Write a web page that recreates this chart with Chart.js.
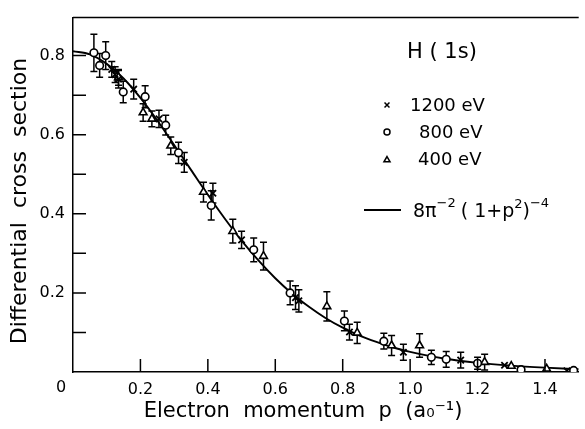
<!DOCTYPE html>
<html><head><meta charset="utf-8">
<script src="https://cdn.jsdelivr.net/npm/chart.js@4.4.1/dist/chart.umd.min.js"></script>
<style>html,body{margin:0;padding:0;background:#fff;}</style>
</head><body>
<canvas id="c" width="585" height="429"></canvas>
<script>
// Theory curve 8π⁻²(1+p²)⁻⁴
const curveP = [0,0.05,0.1,0.15,0.2,0.25,0.3,0.35,0.4,0.45,0.5,0.55,0.6,0.65,0.7,0.75,0.8,0.85,0.9,0.95,1.0,1.1,1.2,1.3,1.4,1.5];
const curveV = [0.811,0.803,0.779,0.742,0.693,0.636,0.574,0.511,0.448,0.388,0.332,0.282,0.237,0.198,0.165,0.136,0.112,0.092,0.076,0.062,0.051,0.034,0.023,0.016,0.011,0.007];

// 1200 eV (crosses)
const p1200 = [0.115,0.125,0.135,0.18,0.255,0.33,0.415,0.50,0.66,0.67,0.82,0.98,1.15,1.28,1.465];
const v1200 = [0.765,0.752,0.740,0.715,0.640,0.530,0.452,0.334,0.188,0.180,0.101,0.050,0.030,0.017,0.003];
const e1200 = [0.020,0.020,0.022,0.025,0.022,0.025,0.025,0.022,0.030,0.028,0.020,0.020,0.020,0,0];

// 800 eV (circles)
const p800 = [0.062,0.079,0.097,0.149,0.214,0.275,0.313,0.41,0.536,0.644,0.805,0.922,1.063,1.107,1.20,1.329,1.485];
const v800 = [0.807,0.775,0.800,0.708,0.696,0.624,0.554,0.421,0.309,0.200,0.129,0.078,0.037,0.032,0.022,0.006,0.004];
const e800 = [0.047,0.030,0.035,0.027,0.028,0.025,0.027,0.037,0.030,0.030,0.025,0.020,0.018,0.020,0.015,0,0];

// 400 eV (triangles)
const p400 = [0.135,0.208,0.234,0.29,0.387,0.474,0.565,0.753,0.843,0.945,1.028,1.221,1.30,1.405];
const v400 = [0.745,0.656,0.640,0.572,0.455,0.356,0.293,0.166,0.099,0.067,0.067,0.025,0.015,0.008];
const e400 = [0.020,0.022,0.020,0.022,0.025,0.030,0.035,0.037,0.027,0.025,0.030,0.020,0,0];

const xTickVals = [0.2,0.4,0.6,0.8,1.0,1.2,1.4];
const yTickVals = [0.1,0.2,0.3,0.4,0.5,0.6,0.7,0.8];

const xTitle = 'Electron  momentum  p  (a₀⁻¹)';
const yTitle = 'Differential  cross  section';

const FONT = '"DejaVu Sans", sans-serif';
const toXY = (ps, vs) => ps.map((p,i)=>({x:p,y:vs[i]}));
const errSeries = [[p1200,v1200,e1200],[p800,v800,e800],[p400,v400,e400]];

const deco = {
  id:'deco',
  beforeDatasetsDraw(chart){
    const ctx=chart.ctx, xs=chart.scales.x, ys=chart.scales.y;
    ctx.save();
    ctx.strokeStyle='#000'; ctx.lineWidth=1.5;
    errSeries.forEach(([ps,vs,es])=>{
      ps.forEach((p,i)=>{
        const e=es[i]; if(!e) return;
        const X=xs.getPixelForValue(p);
        const yt=ys.getPixelForValue(vs[i]+e), yb=ys.getPixelForValue(vs[i]-e);
        ctx.beginPath();
        ctx.moveTo(X,yt); ctx.lineTo(X,yb);
        ctx.moveTo(X-3.5,yt); ctx.lineTo(X+3.5,yt);
        ctx.moveTo(X-3.5,yb); ctx.lineTo(X+3.5,yb);
        ctx.stroke();
      });
    });
    ctx.restore();
  },
  afterDraw(chart){
    const ctx=chart.ctx, xs=chart.scales.x, ys=chart.scales.y, a=chart.chartArea;
    ctx.save();
    ctx.strokeStyle='#000'; ctx.lineWidth=1.5;
    // top frame
    ctx.beginPath(); ctx.moveTo(a.left,a.top); ctx.lineTo(a.right,a.top); ctx.stroke();
    // inward ticks
    ctx.beginPath();
    yTickVals.forEach(v=>{const Y=ys.getPixelForValue(v); ctx.moveTo(a.left,Y); ctx.lineTo(a.left+13,Y);});
    xTickVals.forEach(v=>{const X=xs.getPixelForValue(v); ctx.moveTo(X,a.bottom); ctx.lineTo(X,a.bottom-13);});
    ctx.stroke();
    ctx.fillStyle='#000';
    // corner "0"
    ctx.font='16px '+FONT; ctx.textAlign='center'; ctx.textBaseline='middle';
    ctx.fillText('0', a.left-12, a.bottom+16);
    // axis titles
    ctx.font='21px '+FONT;
    ctx.fillText(xTitle, 303, 412);
    ctx.save();
    ctx.translate(20, 201); ctx.rotate(-Math.PI/2);
    ctx.font='22px '+FONT;
    ctx.fillText(yTitle, 0, 0);
    ctx.restore();
    // legend block
    ctx.textAlign='left'; ctx.textBaseline='alphabetic';
    ctx.font='21px '+FONT;
    ctx.fillText('H ( 1s)', 407, 58);
    ctx.font='18px '+FONT;
    ctx.fillText('1200 eV', 410, 111);
    ctx.fillText('800 eV', 419, 138);
    ctx.fillText('400 eV', 418, 165);
    Chart.helpers.drawPoint(ctx,{pointStyle:'crossRot',radius:3.5,borderWidth:1.6,rotation:0},387,105);
    ctx.fillStyle='#fff';
    Chart.helpers.drawPoint(ctx,{pointStyle:'circle',radius:3,borderWidth:1.5,rotation:0},387,132);
    Chart.helpers.drawPoint(ctx,{pointStyle:'triangle',radius:3.5,borderWidth:1.5,rotation:0},387,160);
    ctx.fillStyle='#000';
    // curve legend
    ctx.lineWidth=1.8;
    ctx.beginPath(); ctx.moveTo(364,210); ctx.lineTo(401,210); ctx.stroke();
    let x=413; const base=217;
    const seg=(t,size,dy)=>{ctx.font=size+'px '+FONT; ctx.fillText(t,x,base+dy); x+=ctx.measureText(t).width;};
    seg('8π',19,0); seg('−2',13,-10); x+=5; seg('( 1+p',19,0); seg('2',13,-9); seg(')',19,0); seg('−4',13,-10);
    ctx.restore();
  }
};

new Chart(document.getElementById('c'), {
  type:'scatter',
  data:{datasets:[
    {type:'line', label:'theory', data:toXY(curveP,curveV), borderColor:'#000', borderWidth:1.9, pointRadius:0, cubicInterpolationMode:'monotone', fill:false, order:3},
    {label:'1200 eV', data:toXY(p1200,v1200), pointStyle:'crossRot', pointRadius:4.5, borderColor:'#000', borderWidth:1.8, backgroundColor:'#000', order:1},
    {label:'800 eV', data:toXY(p800,v800), pointStyle:'circle', pointRadius:3.8, borderColor:'#000', borderWidth:1.6, backgroundColor:'#fff', order:2},
    {label:'400 eV', data:toXY(p400,v400), pointStyle:'triangle', pointRadius:4.5, borderColor:'#000', borderWidth:1.6, backgroundColor:'#fff', order:2}
  ]},
  options:{
    responsive:false, animation:false, events:[],
    layout:{padding:{top:10,right:0,left:0,bottom:0}},
    plugins:{legend:{display:false}, tooltip:{enabled:false}},
    scales:{
      x:{type:'linear', min:0, max:1.5,
        afterBuildTicks(s){ s.ticks = xTickVals.map(v=>({value:v})); },
        afterFit(s){s.height=57;},
        grid:{display:false, drawTicks:false},
        border:{display:true, color:'#000', width:1.5},
        ticks:{autoSkip:false, maxRotation:0, padding:8, color:'#000', font:{family:FONT,size:16},
          callback:(v)=>Number(v).toFixed(1)}
      },
      y:{type:'linear', min:0, max:0.896,
        afterBuildTicks(s){ s.ticks = yTickVals.map(v=>({value:v})); },
        afterFit(s){s.width=73;},
        grid:{display:false, drawTicks:false},
        border:{display:true, color:'#000', width:1.5},
        ticks:{autoSkip:false, padding:8, color:'#000', font:{family:FONT,size:16},
          callback:(v)=>{ const k=Math.round(v*10); return (k%2===0) ? (k/10).toFixed(1) : ''; }}
      }
    }
  },
  plugins:[deco]
});
</script>
</body></html>
